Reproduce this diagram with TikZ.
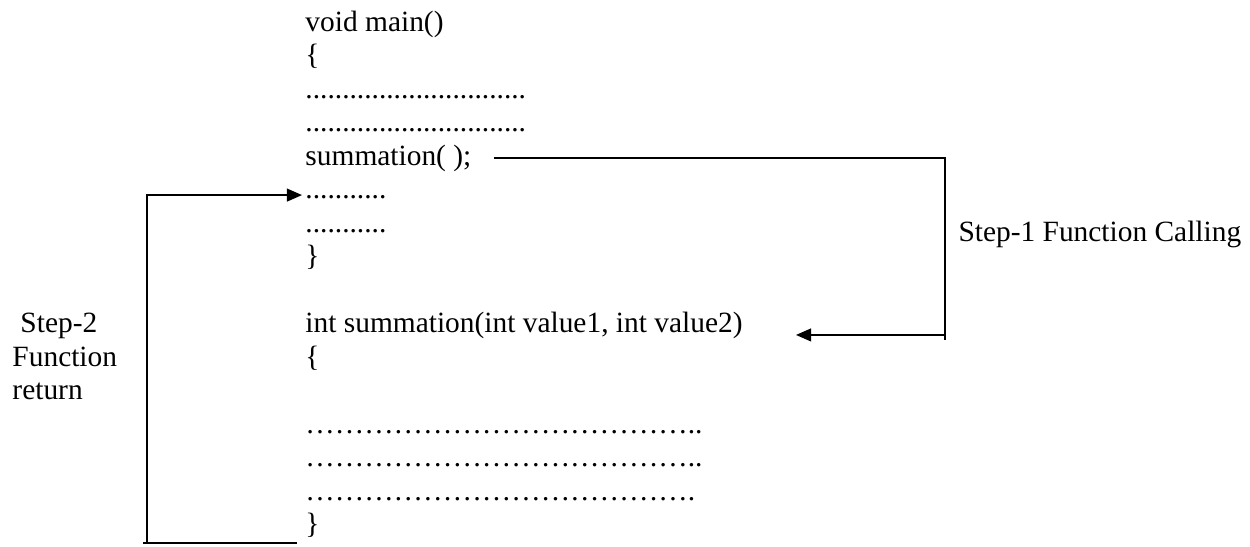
\documentclass[tikz,border=0pt]{standalone}
\usepackage{fontspec}
\setmainfont{Liberation Serif}
\usetikzlibrary{arrows.meta}
\begin{document}
\begin{tikzpicture}[x=0.408pt,y=-0.408pt,
  code/.style={anchor=base west,inner sep=0pt,font=\fontsize{12}{14}\selectfont},
  note/.style={anchor=base west,inner sep=0pt,font=\fontsize{12}{14}\selectfont},
  flow/.style={line width=0.8pt},
  tip/.style={-{Triangle[length=6.2pt,width=5.2pt]}}]
\useasboundingbox (0,0) rectangle (1250,546);

% main()
\node[code] (m0) at (305,31)    {void main()};
\node[code] (m1) at (305,64.5)  {\{};
\node[code] (m2) at (305,98)    {..............................};
\node[code] (m3) at (305,131.5) {..............................};
\node[code] (call) at (305,165) {summation( );};
\node[code] (back) at (305,198.5) {...........};
\node[code] (m6) at (305,232)   {...........};
\node[code] (m7) at (305,265.5) {\}};

% summation()
\node[code] (def) at (305,332.5) {int summation(int value1, int value2)};
\node[code] (s1) at (305,366)    {\{};
\node[code] (s2) at (305,433)    {…………………………………..};
\node[code] (s3) at (305,466.5)  {…………………………………..};
\node[code] (s4) at (305,500)    {………………………………….};
\node[code] (s5) at (305,533.5)  {\}};

% step labels
\node[note] (step1) at (958,241) {Step-1 Function Calling};
\node[note] (step2a) at (20,332.5) {Step-2};
\node[note] (step2b) at (12,366) {Function};
\node[note] (step2c) at (12,399.5) {return};

% Step 1: the call jumps to the definition
\coordinate (callTurn) at (945,340);
\draw[flow] ([xshift=9pt]call.east) -| (callTurn);
\draw[flow,tip] ([yshift=-1pt]callTurn |- def.base east)
  -- ([xshift=21.6pt,yshift=-1pt]def.base east);

% Step 2: control returns to the line after the call
\coordinate (retFoot) at (297,543);
\coordinate (retEnd) at (143,543);
\coordinate (retCorner) at (147,543);
\draw[flow] (retFoot) -- (retEnd);
\draw[flow,tip] (retCorner) |- ([xshift=-1.2pt,yshift=1.4pt]back.base west);
\end{tikzpicture}
\end{document}
